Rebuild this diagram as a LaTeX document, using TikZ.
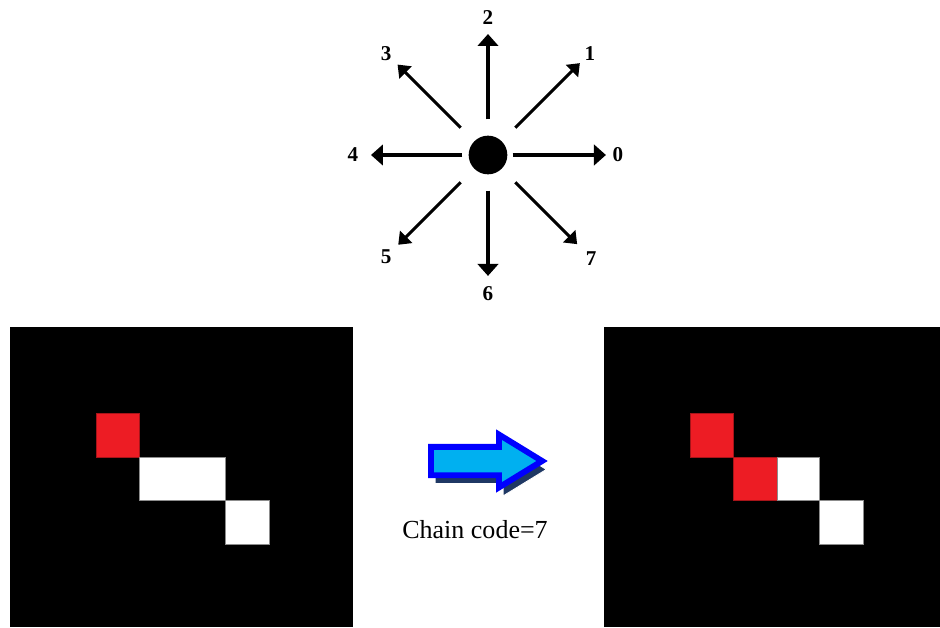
\documentclass[tikz,border=0pt]{standalone}
\usepackage{fontspec}
\setmainfont{Liberation Serif}
\usepackage{tikz}
\usetikzlibrary{arrows.meta, calc, shapes.arrows, shadows, positioning}
\usepackage{xcolor}

\definecolor{pixred}{RGB}{237,28,36}
\definecolor{flowcyan}{RGB}{0,176,240}
\definecolor{flowblue}{RGB}{0,0,255}
\definecolor{flowshade}{RGB}{31,56,100}

\begin{document}
\begin{tikzpicture}[
    x=0.025cm, y=0.025cm,
    dot/.style={circle, fill=black, minimum size=27.5pt, inner sep=0pt},
    dirlabel/.style={circle, minimum size=11.4pt, inner sep=0pt, font=\fontsize{15}{17}\selectfont\bfseries},
    ray/.style={line width=2.9pt, -{Triangle[length=8.5pt, width=14.5pt]}},
    diagray/.style={line width=2.2pt, -{Triangle[length=8pt, width=12pt]}},
    panel/.style={fill=black},
    redpix/.style={fill=pixred, draw=pixred!70!black, line width=0.5pt},
    whitepix/.style={fill=white, draw=black!45, line width=0.5pt},
]
\useasboundingbox (0,0) rectangle (940,627);

% Direction wheel
\node[dot] (c) at (488,472) {};
\foreach \k/\r/\ss/\se/\st in {0/130/3.6pt/2.1pt/ray, 1/144/13.5pt/3.6pt/diagray,
    2/137/11.4pt/5pt/ray, 3/144/13.5pt/5pt/diagray, 4/135/4.3pt/6.4pt/ray,
    5/144/13.5pt/5.7pt/diagray, 6/139/11.4pt/6.4pt/ray, 7/146/13.5pt/7.8pt/diagray} {
    \node[dirlabel] (d\k) at ($(c)+(\k*45:\r)$) {\k};
    \draw[\st, shorten <=\ss, shorten >=\se] (c) -- (d\k);
}

% Images
\fill[panel] (10,0) rectangle (353,300);
\fill[panel] (604,0) rectangle (940,300);

% Before
\draw[redpix] (96,170) rectangle (139,214);
\draw[whitepix] (139,127) rectangle (225,170);
\draw[whitepix] (225,83) rectangle (269,127);

% After
\draw[redpix] (690,170) rectangle (733,214);
\draw[redpix] (733,127) rectangle (777,170);
\draw[whitepix] (777,127) rectangle (819,170);
\draw[whitepix] (819,83) rectangle (863,127);

% Step arrow
\node[single arrow, draw=flowblue, fill=flowcyan, line width=4.2pt, inner sep=8pt, outer sep=0pt,
    minimum height=79pt, single arrow head extend=8.7pt, single arrow tip angle=63, anchor=tail,
    drop shadow={shadow xshift=3pt, shadow yshift=-6pt, fill=flowshade, draw=white, line width=0.6pt, opacity=1}]
    (flow) at (431,166) {};
\node[font=\fontsize{18.5}{22}\selectfont] (cc) at (475,97) {Chain code=7};

\end{tikzpicture}
\end{document}
